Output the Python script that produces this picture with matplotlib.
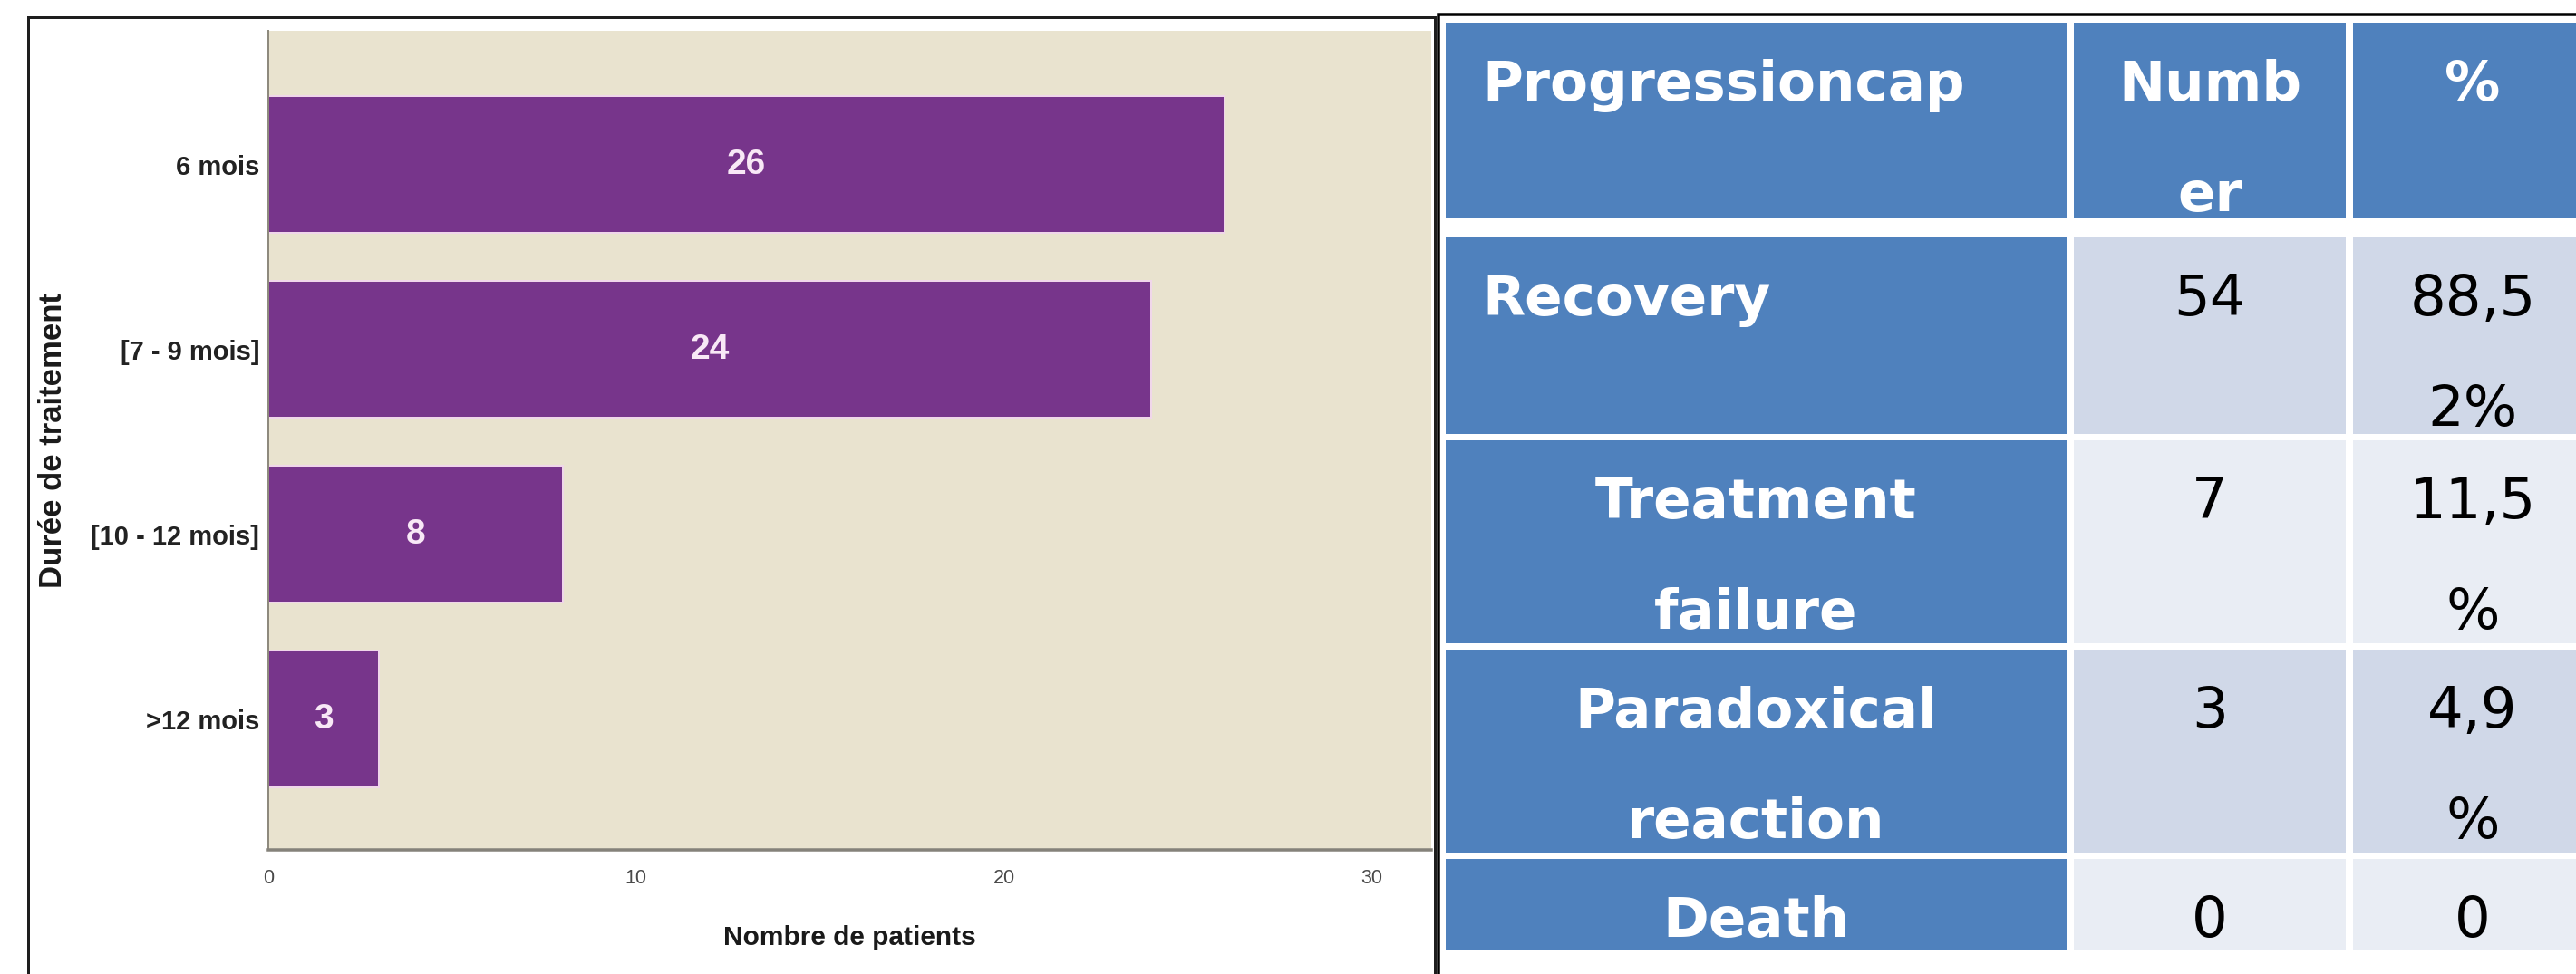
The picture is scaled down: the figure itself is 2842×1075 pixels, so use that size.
import matplotlib
matplotlib.use("Agg")
import matplotlib.pyplot as plt
from matplotlib.patches import Rectangle

# ---------------- data ----------------
categories = ["6 mois", "[7 - 9 mois]", "[10 - 12 mois]", ">12 mois"]
patients = [26, 24, 8, 3]
x_ticks = [0, 10, 20, 30]
x_label = "Nombre de patients"
y_label = "Durée de traitement"

table_header = ["Progressioncap", "Numb\ner", "%"]
outcomes = ["Recovery", "Treatment\nfailure", "Paradoxical\nreaction", "Death"]
counts = ["54", "7", "3", "0"]
percents = ["88,5\n2%", "11,5\n%", "4,9\n%", "0"]

# ---------------- figure ----------------
W, H = 2842, 1075
DPI = 100
PX = 72.0 / DPI  # points per pixel
fig = plt.figure(figsize=(W / DPI, H / DPI), dpi=DPI)
fig.patch.set_facecolor("white")

bg = fig.add_axes([0, 0, 1, 1])
bg.set_xlim(0, W)
bg.set_ylim(H, 0)
bg.axis("off")

# panel frames
bg.plot([31, 31, 1583, 1583], [H + 10, 19, 19, H + 10], color="#1e1e1e",
        lw=3 * PX, solid_joinstyle="miter")
bg.plot([1587, 1587, W + 10], [H + 10, 16, 16], color="#000000",
        lw=3.5 * PX, solid_joinstyle="miter")

# ---------------- table ----------------
col_bounds = [(1595, 2280), (2288, 2588), (2596, 2860)]
row_bounds = [(25, 241), (262, 479), (486, 710), (717, 941), (948, 1049)]
BLUE = "#4F81BD"
ROW_COLORS = ["#D0D8E8", "#E9EDF4"]
BASE_OFF = 86
LINE_GAP = 122
LEFT_X = 1635

table_rows = [table_header] + [[o, c, p] for o, c, p in zip(outcomes, counts, percents)]

for r, row in enumerate(table_rows):
    top, bot = row_bounds[r]
    for c, txt in enumerate(row):
        x0, x1 = col_bounds[c]
        if r == 0 or c == 0:
            fc = BLUE
            tc = "white"
            kw = dict(family="DejaVu Sans", fontweight="bold", fontsize=44)
        else:
            fc = ROW_COLORS[(r - 1) % 2]
            tc = "black"
            kw = dict(family="DejaVu Sans", fontsize=45)
        bg.add_patch(Rectangle((x0, top), x1 - x0, bot - top, facecolor=fc,
                               edgecolor="none", zorder=1))
        left = (c == 0 and r <= 1)
        tx = LEFT_X if left else (x0 + x1) / 2
        for i, line in enumerate(txt.split("\n")):
            bg.text(tx, top + BASE_OFF + i * LINE_GAP, line, color=tc,
                    ha="left" if left else "center", va="baseline",
                    zorder=3, **kw)

# ---------------- bar chart ----------------
ax = fig.add_axes([296 / W, 1 - 938 / H, (1579 - 296) / W, (938 - 34) / H])
ax.set_facecolor("#E9E3CF")
ypos = list(range(len(categories)))
bars = ax.barh(ypos, patients, height=0.74, color="#77358B",
               edgecolor="#F0D6EA", linewidth=2 * PX, zorder=2)
ax.set_ylim(3.708, -0.723)
ax.set_xlim(0, 31.62)
ax.set_yticks(ypos)
ax.set_yticklabels(categories, family="Liberation Sans", fontweight="bold",
                   fontsize=21, color="#222222")
ax.set_xticks(x_ticks)
ax.set_xticklabels([str(t) for t in x_ticks], family="Liberation Sans",
                   fontsize=15.5, color="#4a4a4a")
ax.tick_params(axis="both", length=0)
ax.tick_params(axis="y", pad=7)
ax.tick_params(axis="x", pad=15)

for s in ["top", "right"]:
    ax.spines[s].set_visible(False)
ax.spines["left"].set_color("#8E8A7E")
ax.spines["left"].set_linewidth(2 * PX)
ax.spines["bottom"].set_color("#85827A")
ax.spines["bottom"].set_linewidth(3.5 * PX)

ax.bar_label(bars, labels=[str(v) for v in patients], label_type="center",
             color="#F8E8F6", fontsize=28, fontweight="bold", family="Liberation Sans")

ax.set_xlabel(x_label, family="Liberation Sans", fontweight="bold",
              fontsize=21.5, color="#1a1a1a")
ax.xaxis.set_label_coords((937 - 296) / 1283, -(1035 - 938) / 904)
ax.xaxis.label.set_verticalalignment("center")

ax.set_ylabel(y_label, family="Liberation Sans", fontweight="bold",
              fontsize=25, color="#1a1a1a")
ax.yaxis.set_label_coords((59 - 296) / 1283, (938 - 486) / 904)
ax.yaxis.label.set_verticalalignment("center")
ax.yaxis.label.set_horizontalalignment("center")

fig.savefig("out.png", dpi=DPI, facecolor="white")
